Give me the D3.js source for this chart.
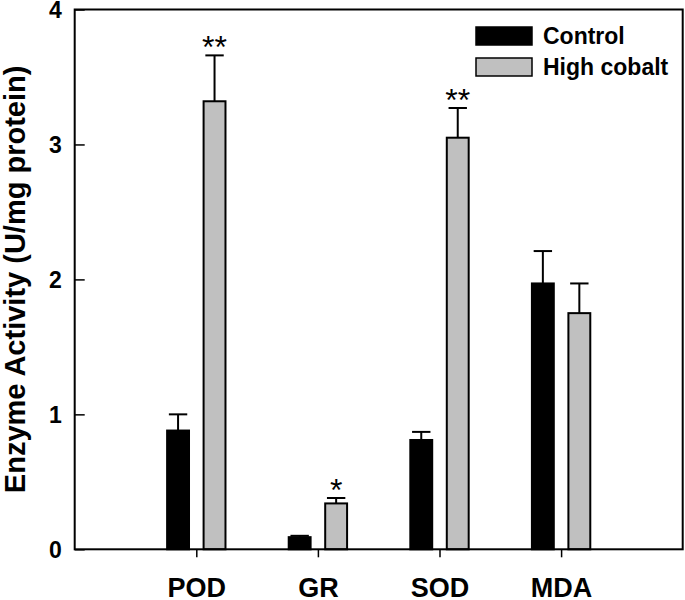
<!DOCTYPE html>
<html>
<head>
<meta charset="utf-8">
<script src="https://cdn.jsdelivr.net/npm/d3@7"></script>
<style>
  body { margin: 0; background: #fff; }
  text { font-family: "Liberation Sans", Arial, sans-serif; }
</style>
</head>
<body>
<svg width="685" height="600"></svg>
<script>
// data
var categories = ["POD", "GR", "SOD", "MDA"];
var seriesNames = ["Control", "High cobalt"];
var controlVals = [0.88, 0.09, 0.81, 1.97];
var controlErr = [0.12, 0.01, 0.06, 0.24];
var cobaltVals = [3.32, 0.34, 3.05, 1.75];
var cobaltErr = [0.34, 0.04, 0.22, 0.22];
var cobaltSig = ["**", "*", "**", ""];
var yTicks = [0, 1, 2, 3, 4];

var svg = d3.select("svg"),
    margin = {top: 9.5, right: 2.3, bottom: 50.7, left: 74.7},
    width = +svg.attr("width") - margin.left - margin.right,
    height = +svg.attr("height") - margin.top - margin.bottom;

var g = svg.append("g")
    .attr("transform", "translate(" + margin.left + "," + margin.top + ")");

var x = d3.scaleLinear().domain([0, 5]).range([0, width]);
var y = d3.scaleLinear().domain([0, 4]).range([height, 0]);
var unit = x(1) - x(0);
var barW = 0.18 * unit,
    off = 0.15 * unit;

var colors = ["#000000", "#c0c0c0"];

var rows = categories.map(function (c, i) {
    return [
        {cat: c, i: i, s: 0, v: controlVals[i], e: controlErr[i], sig: ""},
        {cat: c, i: i, s: 1, v: cobaltVals[i], e: cobaltErr[i], sig: cobaltSig[i]}
    ];
});
var flat = [].concat.apply([], rows);

function cx(d) {
    return x(d.i + 1) + (d.s === 0 ? -off : off);
}

// error bars (upper only)
g.selectAll(".err")
    .data(flat)
    .enter().append("line")
    .attr("class", "err")
    .attr("x1", cx).attr("x2", cx)
    .attr("y1", function (d) { return y(d.v); })
    .attr("y2", function (d) { return y(d.v + d.e); })
    .attr("stroke", "#000").attr("stroke-width", 2);

g.selectAll(".cap")
    .data(flat)
    .enter().append("line")
    .attr("class", "cap")
    .attr("x1", function (d) { return cx(d) - barW * 0.42; })
    .attr("x2", function (d) { return cx(d) + barW * 0.42; })
    .attr("y1", function (d) { return y(d.v + d.e); })
    .attr("y2", function (d) { return y(d.v + d.e); })
    .attr("stroke", "#000").attr("stroke-width", 2);

g.selectAll(".bar")
    .data(flat)
    .enter().append("rect")
    .attr("class", "bar")
    .attr("x", function (d) { return cx(d) - barW / 2; })
    .attr("width", barW)
    .attr("y", function (d) { return y(d.v); })
    .attr("height", function (d) { return y(0) - y(d.v); })
    .attr("fill", function (d) { return colors[d.s]; })
    .attr("stroke", "#000").attr("stroke-width", 2);

// significance stars
g.selectAll(".sig")
    .data(flat.filter(function (d) { return d.sig; }))
    .enter().append("text")
    .attr("class", "sig")
    .attr("x", cx)
    .attr("y", function (d) { return y(d.v + d.e) + 3; })
    .attr("text-anchor", "middle")
    .style("font-size", "32px")
    .text(function (d) { return d.sig; });

// frame
g.append("rect")
    .attr("width", width).attr("height", height)
    .attr("fill", "none").attr("stroke", "#000").attr("stroke-width", 2);

// y axis, ticks inside
var yAxis = g.append("g")
    .call(d3.axisLeft(y).tickValues(yTicks).tickFormat(d3.format("d"))
        .tickSizeInner(-10).tickSizeOuter(0).tickPadding(13));
yAxis.select(".domain").remove();
yAxis.selectAll("line").attr("stroke-width", 1.5);
yAxis.selectAll("text")
    .attr("dy", "0.36em")
    .style("font-size", "23px").style("font-weight", "bold")
    .attr("fill", "#000");

// x axis, ticks outside
var xAxis = g.append("g")
    .attr("transform", "translate(0," + height + ")")
    .call(d3.axisBottom(x).tickValues([1, 2, 3, 4])
        .tickFormat(function (d) { return categories[d - 1]; })
        .tickSizeInner(8).tickSizeOuter(0));
xAxis.select(".domain").remove();
xAxis.selectAll("line").attr("stroke-width", 1.5);
xAxis.selectAll("text")
    .attr("y", 48).attr("dy", 0)
    .style("font-size", "27px").style("font-weight", "bold")
    .attr("fill", "#000");

// y title
svg.append("text")
    .attr("transform", "translate(25," + (margin.top + height / 2) + ") rotate(-90)")
    .attr("text-anchor", "middle")
    .style("font-size", "29px").style("font-weight", "bold")
    .text("Enzyme Activity (U/mg protein)");

// legend
var legend = svg.append("g").attr("transform", "translate(476,27)");
seriesNames.forEach(function (name, i) {
    var row = legend.append("g").attr("transform", "translate(0," + (i * 31) + ")");
    row.append("rect")
        .attr("width", 56).attr("height", 18)
        .attr("fill", colors[i])
        .attr("stroke", "#000").attr("stroke-width", 1.5);
    row.append("text")
        .attr("x", 67).attr("y", 17)
        .style("font-size", "23px").style("font-weight", "bold")
        .text(name);
});
</script>
</body>
</html>
